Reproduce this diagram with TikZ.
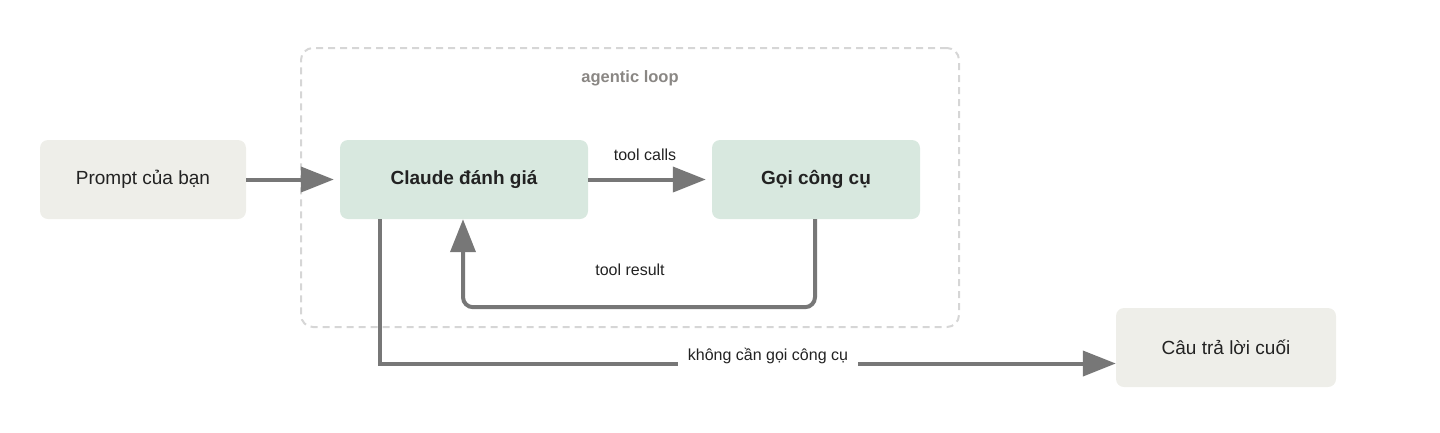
\documentclass[tikz,border=0pt]{standalone}
\usepackage{fontspec}
\setmainfont{Liberation Sans}
\usetikzlibrary{arrows.meta,calc}
\definecolor{boxgray}{HTML}{EEEEE9}
\definecolor{boxgreen}{HTML}{D8E8DF}
\definecolor{arrgray}{HTML}{777777}
\definecolor{dashgray}{HTML}{D6D6D6}
\definecolor{txt}{HTML}{222222}
\definecolor{looptxt}{HTML}{8A8784}
\tikzset{
  plainbox/.style={rectangle, rounded corners=8pt, draw=none, text=txt, font=\fontsize{19}{22}\selectfont, inner sep=0pt},
  graybox/.style={plainbox, fill=boxgray},
  greenbox/.style={plainbox, fill=boxgreen, font=\fontsize{19}{22}\selectfont\bfseries},
  arr/.style={draw=arrgray, line width=4pt, -{Triangle[length=33pt,width=25pt]}},
  lbl/.style={text=txt, font=\fontsize{16}{19}\selectfont, inner sep=0pt},
  loopbox/.style={draw=dashgray, line width=2pt, dash pattern=on 7pt off 5pt, rounded corners=12pt}
}
\begin{document}
\begin{tikzpicture}[x=1pt,y=-1pt]
\useasboundingbox (0,0) rectangle (1440,432);
% container
\node[loopbox, minimum width=658pt, minimum height=279pt, inner sep=0pt] (loop) at (630,187.5) {};
\node[text=looptxt, font=\fontsize{16.5}{19}\selectfont\bfseries, inner sep=0pt] (looplbl) at (630,78) {agentic loop};
% boxes
\node[graybox, minimum width=206pt, minimum height=79pt] (prompt) at (143,179.5) {\raisebox{-1.5pt}{Prompt của bạn}};
\node[greenbox, minimum width=248pt, minimum height=79pt] (claude) at (464,179.5) {\raisebox{-1.5pt}{Claude đánh giá}};
\node[greenbox, minimum width=208pt, minimum height=79pt] (tools) at (816,179.5) {\raisebox{-1.5pt}{Gọi công cụ}};
\node[graybox, minimum width=220pt, minimum height=79pt] (final) at (1226,347.5) {\raisebox{-1.5pt}{Câu trả lời cuối}};
% connectors
\draw[arr, shorten >=6pt] (prompt.east) -- (claude.west);
\draw[arr, shorten >=6pt] (claude.east) -- (tools.west);
\node[lbl] (tc) at (645,155) {tool calls};
\coordinate (rb) at ($(tools.south)+(-1,88)$);
\draw[arr, rounded corners=10pt] ([xshift=-1pt]tools.south) -- (rb) -| ([xshift=-1pt]claude.south);
\node[lbl] (tr) at (630,270) {tool result};
\coordinate (fin) at ([yshift=-16pt]final.west);
\draw[arr] ([xshift=-84pt]claude.south) |- (fin);
\node[lbl, fill=white, inner xsep=10pt, inner ysep=5pt] (nc) at (768,356) {không cần gọi công cụ};
\end{tikzpicture}
\end{document}
